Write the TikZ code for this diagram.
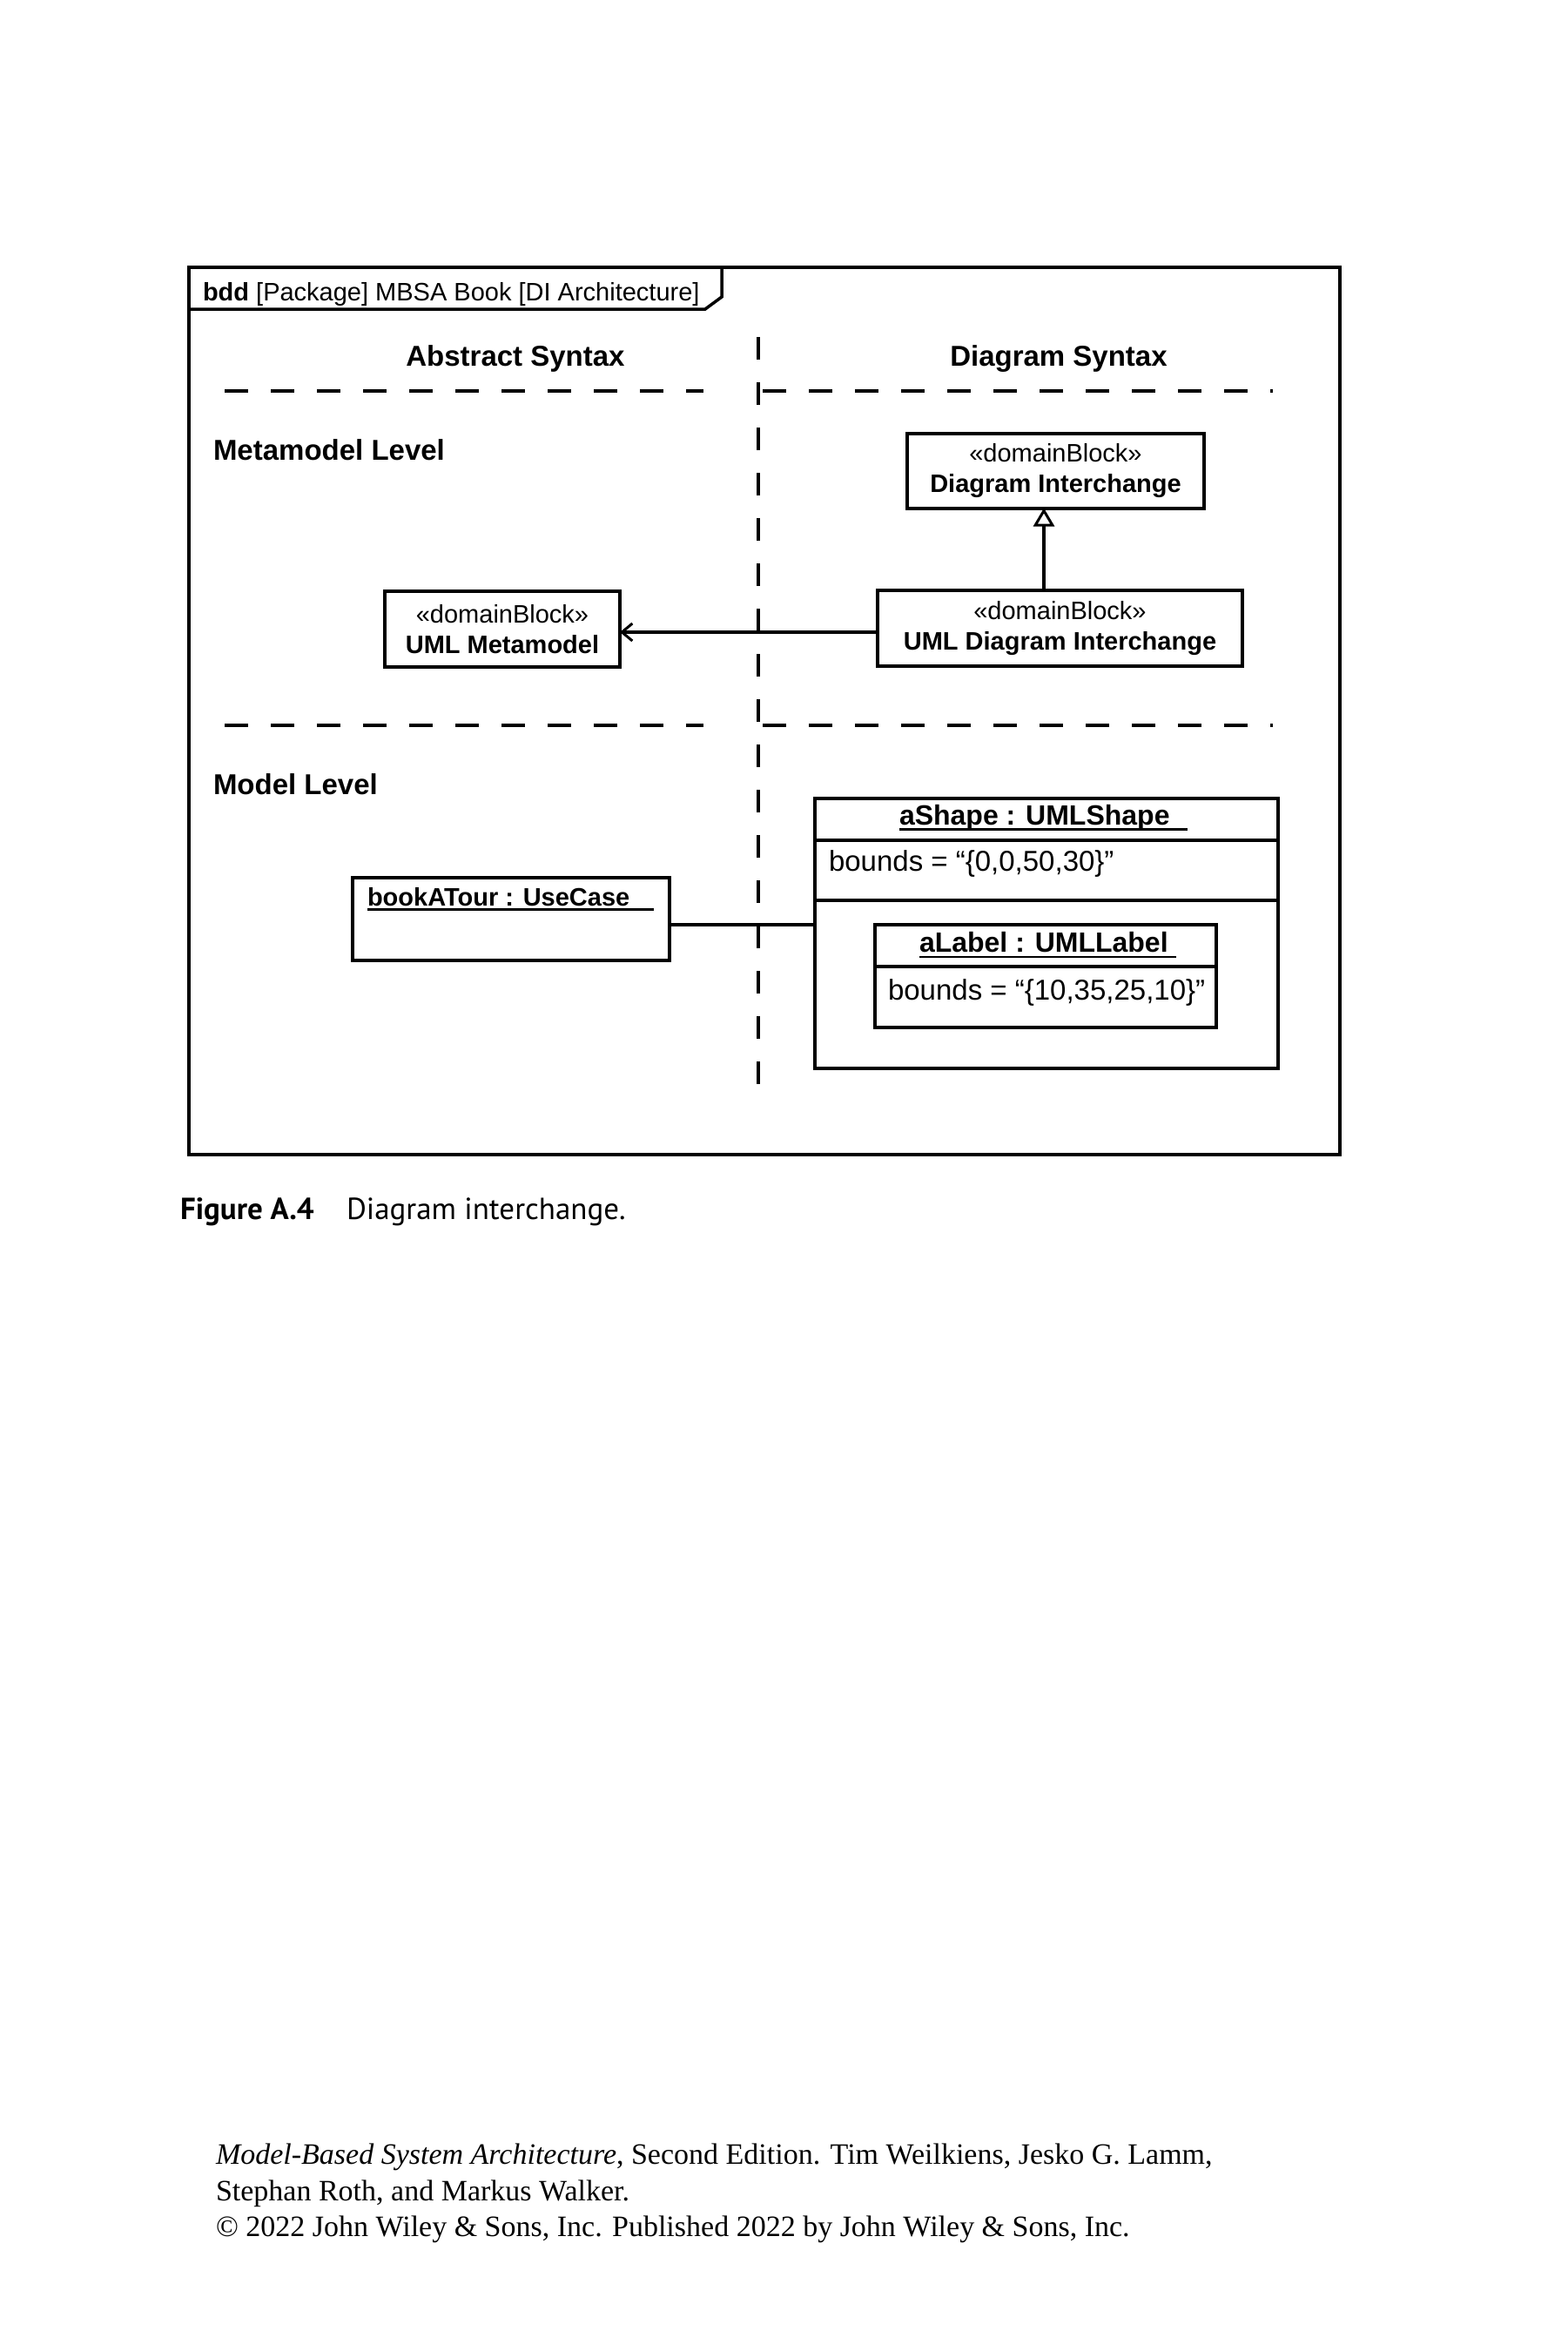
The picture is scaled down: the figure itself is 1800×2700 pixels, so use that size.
\documentclass[tikz,border=0pt]{standalone}
\usepackage{fontspec}
\setmainfont{Liberation Sans}
\newfontfamily\capfont{PT Sans}
\newfontfamily\footfont{Liberation Serif}
\usetikzlibrary{arrows.meta,calc}
\newcommand{\fsz}[2]{\fontsize{#1}{#2}\selectfont}
\begin{document}
\begin{tikzpicture}[x=1pt,y=-1pt,
  every node/.style={inner sep=0pt, outer sep=0pt},
  blk/.style={draw, line width=4pt, align=center, font=\fsz{29}{35}},
  objbox/.style={draw, line width=4pt},
  compline/.style={line width=4pt},
  conn/.style={line width=3.5pt},
  vsep/.style={line width=3.5pt, dash pattern=on 26pt off 26pt},
  hsep/.style={line width=3.5pt, dash pattern=on 27pt off 26pt},
  ul/.style={line width=2.7pt},
  heading/.style={font=\fsz{33}{40}\bfseries},
  objhead/.style={anchor=base west, font=\fsz{32}{38}\bfseries},
  attr/.style={anchor=base west, font=\fsz{33}{40}},
  foot/.style={anchor=base west, font=\footfont\fsz{34}{42}}]
\useasboundingbox (0,0) rectangle (1800,2700);
% frame
\node[draw, line width=4pt, minimum width=1322pt, minimum height=1019pt] (frame) at (878,816.5) {};
\draw[line width=3.5pt] (217,355) -- (810,355) -- (829,341) -- (829,307);
\node[anchor=base west, font=\fsz{29}{35}] (flabel) at (233,345) {\textbf{bdd} [Package] MBSA Book [DI Architecture]};
% headings
\node[heading, anchor=base] (abs) at (592,420) {Abstract Syntax};
\node[heading, anchor=base] (dsy) at (1216,420) {Diagram Syntax};
\node[heading, anchor=base west] (mml) at (245,528) {Metamodel Level};
\node[heading, anchor=base west] (mdl) at (245,912) {Model Level};
% separators
\draw[vsep] (871,387) -- (871,1249);
\draw[hsep] (258,449) -- (808,449);
\draw[hsep] (876,449) -- (1462,449);
\draw[hsep] (258,833) -- (808,833);
\draw[hsep] (876,833) -- (1462,833);
% blocks
\node[blk, minimum width=341pt, minimum height=86pt] (di) at (1212.5,540.5) {«domainBlock»\\\textbf{Diagram Interchange}};
\node[blk, minimum width=419pt, minimum height=87pt] (umldi) at (1217.5,721.5) {«domainBlock»\\\textbf{UML Diagram Interchange}};
\node[blk, minimum width=270pt, minimum height=87pt] (umlmm) at (577,722.5) {«domainBlock»\\\textbf{UML Metamodel}};
\coordinate (gx) at (1199,0);
\draw[conn, -{Triangle[open, length=21pt, width=24pt, line width=3pt]}] (umldi.north -| gx) -- (di.south -| gx);
\coordinate (ay) at (0,726);
\draw[conn, -{Straight Barb[length=12pt, width=20pt, line width=3pt]}] (umldi.west |- ay) -- (umlmm.east |- ay);
% bookATour
\node[objbox, minimum width=364pt, minimum height=95pt] (bat) at (587,1055.5) {};
\node[anchor=base west, font=\fsz{29}{35}\bfseries] (battxt) at (422,1040) {bookATour : UseCase};
\draw[ul] (422,1044.5) -- (751,1044.5);
% aShape
\node[objbox, minimum width=532pt, minimum height=310pt] (ashape) at (1202,1072) {};
\draw[compline] (ashape.west |- 0,965) -- (ashape.east |- 0,965);
\draw[compline] (ashape.west |- 0,1034) -- (ashape.east |- 0,1034);
\node[objhead] (ashtxt) at (1033,947) {aShape : UMLShape};
\draw[ul] (1033,952.5) -- (1364,952.5);
\node[attr] (ashb) at (952,1000) {bounds = “\{0,0,50,30\}”};
% aLabel
\node[objbox, minimum width=392pt, minimum height=118pt] (alabel) at (1201,1121) {};
\draw[compline] (alabel.west |- 0,1110) -- (alabel.east |- 0,1110);
\node[objhead] (altxt) at (1056,1093) {aLabel : UMLLabel};
\draw[ul] (1056,1099) -- (1351,1099);
\node[attr] (alb) at (1020,1148) {bounds = “\{10,35,25,10\}”};
% link
\coordinate (cy) at (0,1062);
\draw[conn] (bat.east |- cy) -- (ashape.west |- cy);
% caption
\node[anchor=base west, font=\capfont\fsz{35}{42}\bfseries] (figno) at (207,1400) {Figure A.4};
\node[anchor=base west, font=\capfont\fsz{35}{42}] (figcap) at (398,1400) {Diagram interchange.};
% footer
\node[foot] (f1) at (248,2485) {\textit{Model-Based System Architecture}, Second Edition. Tim Weilkiens, Jesko G. Lamm,};
\node[foot] (f2) at (248,2527) {Stephan Roth, and Markus Walker.};
\node[foot] (f3) at (248,2568) {© 2022 John Wiley \& Sons, Inc. Published 2022 by John Wiley \& Sons, Inc.};
\end{tikzpicture}
\end{document}
